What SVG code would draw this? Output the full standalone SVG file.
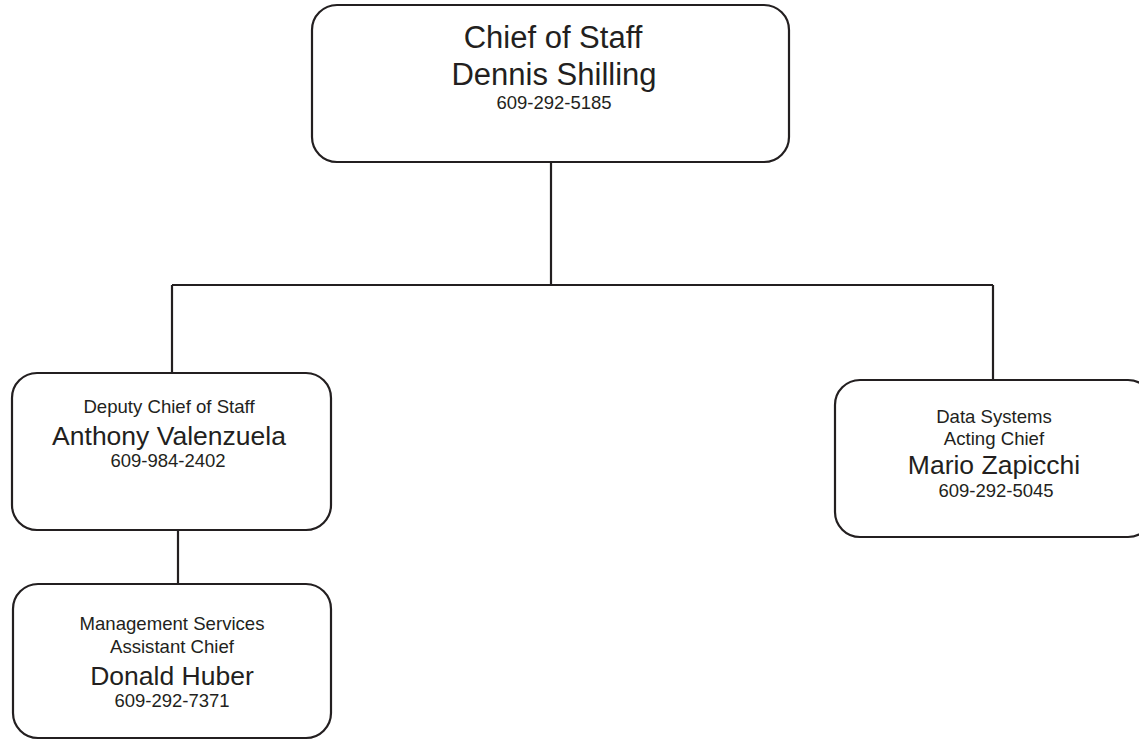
<svg xmlns="http://www.w3.org/2000/svg" width="1139" height="740" viewBox="0 0 1139 740">
<style>
.box{fill:#fff;stroke:#231f20;stroke-width:2.2}
.ln{fill:none;stroke:#231f20;stroke-width:2.2}
text{font-family:"Liberation Sans",Arial,sans-serif;fill:#231f20;text-anchor:middle}
.big{font-size:31px}
.name{font-size:26.5px}
.sm{font-size:18.6px}
.ph{font-size:18.5px}
</style>
<rect width="1139" height="740" fill="#fff"/>
<g id="connectors">
<path class="ln" d="M551 162V285M172 285H993M172 285V373M993 285V380M178 530V584"/>
</g>
<g id="chief">
<rect class="box" x="312" y="5" width="477" height="157" rx="25"/>
<text class="big" x="553" y="48">Chief of Staff</text>
<text class="big" x="554" y="85">Dennis Shilling</text>
<text class="ph" x="554" y="109">609-292-5185</text>
</g>
<g id="deputy">
<rect class="box" x="12" y="373" width="319" height="157" rx="25"/>
<text class="sm" x="169" y="413">Deputy Chief of Staff</text>
<text class="name" x="169" y="445">Anthony Valenzuela</text>
<text class="ph" x="168" y="467">609-984-2402</text>
</g>
<g id="management">
<rect class="box" x="13" y="584" width="318" height="154" rx="25"/>
<text class="sm" x="172" y="630">Management Services</text>
<text class="sm" x="172" y="653">Assistant Chief</text>
<text class="name" x="172" y="685">Donald Huber</text>
<text class="ph" x="172" y="707">609-292-7371</text>
</g>
<g id="datasystems">
<rect class="box" x="835" y="380" width="318" height="157" rx="25"/>
<text class="sm" x="994" y="423">Data Systems</text>
<text class="sm" x="994" y="445">Acting Chief</text>
<text class="name" x="994" y="474">Mario Zapicchi</text>
<text class="ph" x="996" y="497">609-292-5045</text>
</g>
</svg>
